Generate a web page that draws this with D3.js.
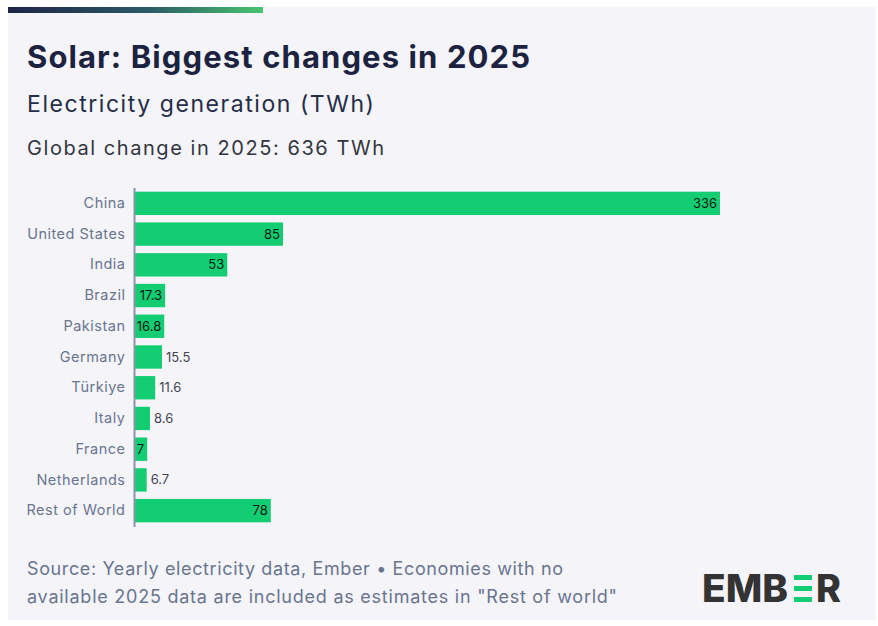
<!DOCTYPE html>
<html>
<head>
<meta charset="utf-8">
<script src="https://cdn.jsdelivr.net/npm/d3@7"></script>
<style>
  html, body { margin: 0; padding: 0; background: #ffffff; }
  svg { display: block; }
</style>
</head>
<body>
<svg id="chart" width="878" height="626"></svg>
<script>
// Solar generation change by economy, 2025 (TWh)
const countries = ["China", "United States", "India", "Brazil", "Pakistan", "Germany", "Türkiye", "Italy", "France", "Netherlands", "Rest of World"];
const changes = [336, 85, 53, 17.3, 16.8, 15.5, 11.6, 8.6, 7, 6.7, 78];
const globalChange = 636;

const font = "Inter, 'Noto Sans', sans-serif";
const svg = d3.select("#chart");

// widen a text run with letter spacing until it spans the given width
function spread(sel, width) {
  const node = sel.node();
  const n = node.getNumberOfChars();
  const w = node.getComputedTextLength();
  if (n > 1 && w < width) sel.attr("letter-spacing", ((width - w) / (n - 1)).toFixed(3));
  return sel;
}

// card background
svg.append("rect").attr("x", 8).attr("y", 7).attr("width", 868).attr("height", 613).attr("fill", "#f4f4f9");

// accent strip
const grad = svg.append("defs").append("linearGradient").attr("id", "accent").attr("x1", "0%").attr("x2", "100%");
grad.append("stop").attr("offset", "0%").attr("stop-color", "#1d2548");
grad.append("stop").attr("offset", "55%").attr("stop-color", "#2b5a66");
grad.append("stop").attr("offset", "100%").attr("stop-color", "#47c56f");
svg.append("rect").attr("x", 8).attr("y", 7).attr("width", 255).attr("height", 6).attr("fill", "url(#accent)");

// headings
spread(svg.append("text").attr("x", 27).attr("y", 68).attr("font-family", font).attr("font-weight", 700)
  .attr("font-size", 31).attr("fill", "#1b2340").text("Solar: Biggest changes in 2025"), 503);
spread(svg.append("text").attr("x", 27).attr("y", 112).attr("font-family", font).attr("font-weight", 400)
  .attr("font-size", 23).attr("fill", "#252d48").text("Electricity generation (TWh)"), 347);
spread(svg.append("text").attr("x", 27).attr("y", 155).attr("font-family", font).attr("font-weight", 400)
  .attr("font-size", 20).attr("fill", "#333640").text(`Global change in 2025: ${globalChange} TWh`), 357);

// scales
const x0 = 135;
const x = d3.scaleLinear().domain([0, 336]).range([x0, 720]);
const y = d3.scaleBand().domain(countries).range([188, 526]).paddingInner(0.24).paddingOuter(0.12);

const g = svg.append("g");

// bars
g.selectAll("rect.bar").data(countries).join("rect")
  .attr("class", "bar")
  .attr("x", x0)
  .attr("y", d => y(d))
  .attr("width", (d, i) => x(changes[i]) - x0)
  .attr("height", y.bandwidth())
  .attr("fill", "#12cd72");

// category axis
const axis = d3.axisLeft(y).tickSize(0).tickPadding(9);
const ax = g.append("g").attr("transform", `translate(${x0 - 0.5},0)`).call(axis);
ax.select(".domain").attr("stroke", "#8a93a8").attr("stroke-width", 2)
  .attr("d", `M0,${188}V${527}`);
ax.selectAll(".tick text").attr("font-family", font).attr("font-size", 14.5)
  .attr("letter-spacing", 0.5).attr("fill", "#6a7590");

// value labels: inside the bar when they fit, otherwise just past its end
const labels = g.selectAll("text.val").data(countries).join("text")
  .attr("class", "val")
  .attr("font-family", font).attr("font-size", 13)
  .attr("y", d => y(d) + y.bandwidth() / 2)
  .attr("dy", "0.35em")
  .text((d, i) => changes[i]);
labels.each(function (d, i) {
  const tw = this.getComputedTextLength();
  const bw = x(changes[i]) - x0;
  const t = d3.select(this);
  if (tw + 4 <= bw) {
    t.attr("x", x(changes[i]) - 3).attr("text-anchor", "end").attr("fill", "#111a14");
  } else {
    t.attr("x", x(changes[i]) + 4).attr("text-anchor", "start").attr("fill", "#444650");
  }
});

// footer
const footStyle = s => s.attr("font-family", font).attr("font-size", 18).attr("fill", "#6a7590");
spread(footStyle(svg.append("text")).attr("x", 27).attr("y", 575)
  .text("Source: Yearly electricity data, Ember • Economies with no"), 536);
spread(footStyle(svg.append("text")).attr("x", 27).attr("y", 603)
  .text("available 2025 data are included as estimates in \"Rest of world\""), 590);

// logo
const logo = svg.append("g").attr("transform", "translate(702,602)");
logo.append("text").attr("x", 0).attr("y", 0).attr("font-family", font).attr("font-weight", 800)
  .attr("font-size", 38).attr("fill", "#333333").attr("textLength", 86).attr("lengthAdjust", "spacingAndGlyphs").text("EMB");
[-27, -16, -5].forEach(dy => logo.append("rect").attr("x", 92).attr("y", dy).attr("width", 18).attr("height", 5).attr("fill", "#12cd72"));
logo.append("text").attr("x", 114).attr("y", 0).attr("font-family", font).attr("font-weight", 800)
  .attr("font-size", 38).attr("fill", "#333333").attr("textLength", 25).attr("lengthAdjust", "spacingAndGlyphs").text("R");
</script>
</body>
</html>
